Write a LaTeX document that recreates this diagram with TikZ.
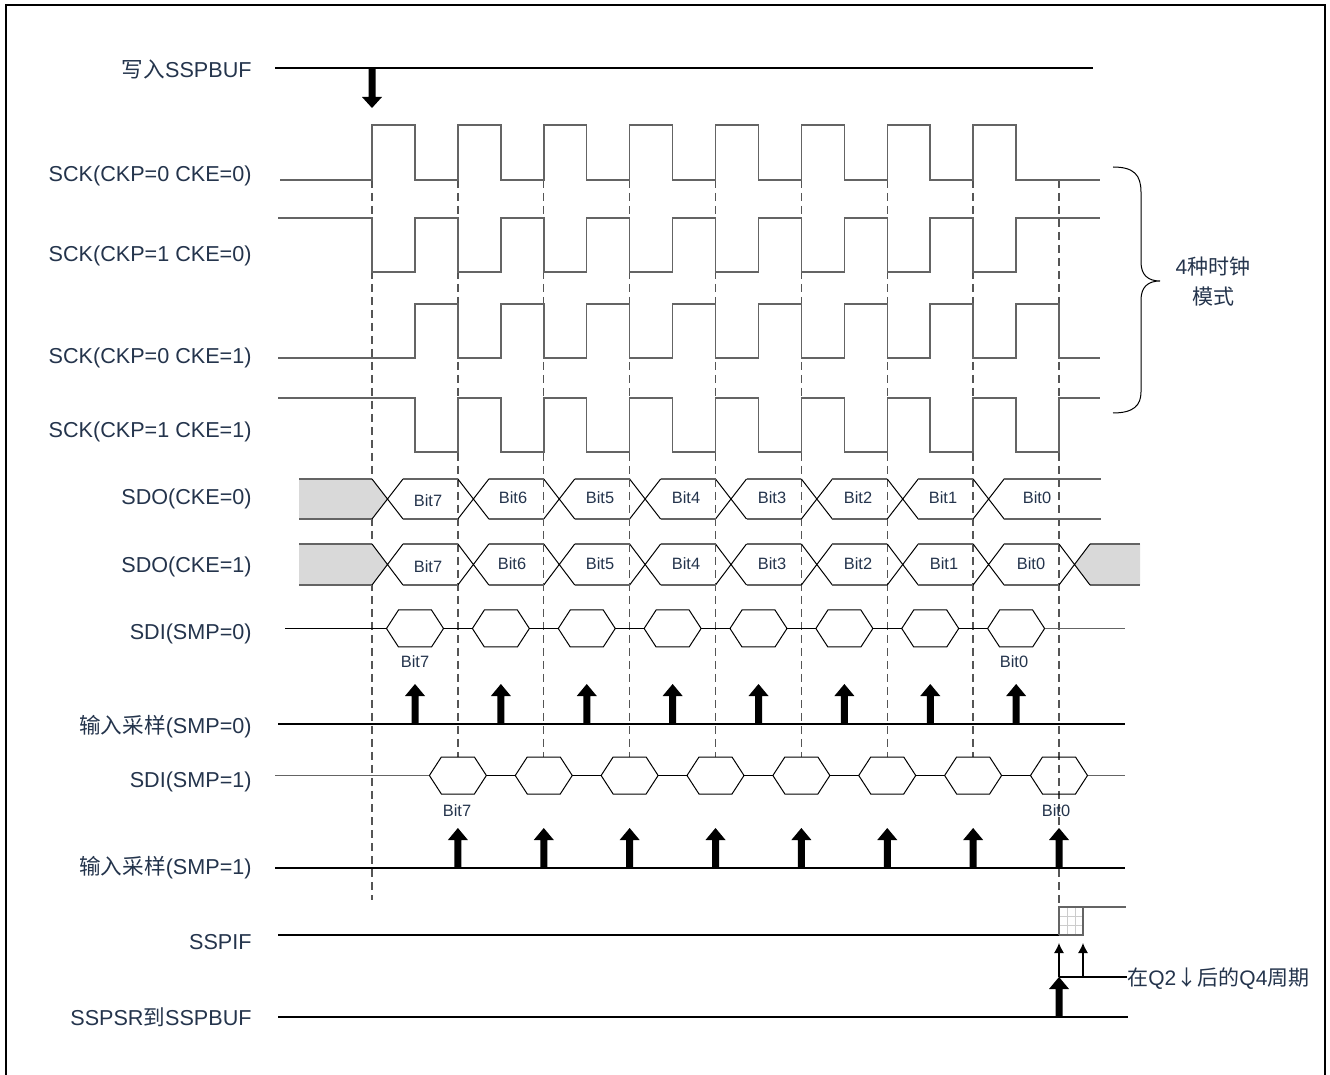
\documentclass[tikz,border=0pt]{standalone}
\usepackage{fontspec}
\setmainfont{Liberation Sans}
\newfontfamily\cjk{Noto Sans CJK SC}
\usetikzlibrary{arrows.meta}
\definecolor{txt}{RGB}{36,52,76}
\definecolor{wavec}{RGB}{100,100,100}
\definecolor{dashc}{RGB}{85,85,85}
\definecolor{grayfill}{RGB}{217,217,217}
\newcommand\myup[3]{\fill[black] ({#1-3.5},#2) -- ({#1-3.5},{#3+12}) -- ({#1-10},{#3+12}) -- (#1,#3) -- ({#1+10},{#3+12}) -- ({#1+3.5},{#3+12}) -- ({#1+3.5},#2) -- cycle;}
\newcommand\mydown[3]{\fill[black] ({#1-3.5},#2) -- ({#1-3.5},{#3-11}) -- ({#1-10},{#3-11}) -- (#1,#3) -- ({#1+10},{#3-11}) -- ({#1+3.5},{#3-11}) -- ({#1+3.5},#2) -- cycle;}
\begin{document}
\begin{tikzpicture}[x=0.5pt,y=-0.5pt,
  lbl/.style={anchor=east,text=txt,font=\fontsize{10.8}{13}\selectfont,inner sep=0pt},
  bitlbl/.style={text=txt,font=\fontsize{8.2}{10}\selectfont,inner sep=0pt},
  wave/.style={draw=wavec,line width=0.75pt},
  base/.style={draw=black,line width=0.6pt},
  dline/.style={draw=dashc,line width=0.7pt,dash pattern=on 4pt off 2.5pt},
  xline/.style={draw=black,line width=0.5pt},
  hline/.style={draw=wavec,line width=0.75pt},
  hexs/.style={draw=black,line width=0.5pt}]
\useasboundingbox (0,0) rectangle (1330,1075);
\def\P{85.875}
\def\H{42.9375}
% frame
\draw[black,line width=0.9pt] (6,1076) -- (6,5) -- (1325,5) -- (1325,1076);

% labels
\node[lbl] (l1) at (252,69) {{\cjk 写入}SSPBUF};
\node[lbl] (l2) at (252,176) {SCK(CKP=0 CKE=0)};
\node[lbl] (l3) at (252,256) {SCK(CKP=1 CKE=0)};
\node[lbl] (l4) at (252,358) {SCK(CKP=0 CKE=1)};
\node[lbl] (l5) at (252,432) {SCK(CKP=1 CKE=1)};
\node[lbl] (l6) at (252,499) {SDO(CKE=0)};
\node[lbl] (l7) at (252,567) {SDO(CKE=1)};
\node[lbl] (l8) at (252,634) {SDI(SMP=0)};
\node[lbl] (l9) at (252,727) {{\cjk 输入采样}(SMP=0)};
\node[lbl] (l10) at (252,782) {SDI(SMP=1)};
\node[lbl] (l11) at (252,868) {{\cjk 输入采样}(SMP=1)};
\node[lbl] (l12) at (252,942) {SSPIF};
\node[lbl] (l13) at (252,1017) {SSPSR{\cjk 到}SSPBUF};

% write SSPBUF
\draw[base] (275,68) -- (1093,68);
\mydown{372}{68}{108}

% dashed lines
\draw[dline] (372,180) -- (372,900);
\foreach \k in {1,...,7} \draw[dline] ({372+\P*\k},180) -- ({372+\P*\k},757);
\draw[dline] (1059,180) -- (1059,935);

% SCK waves
\draw[wave] (280,180) \foreach \k in {0,...,7}{ -- ({372+\P*\k},180) -- ({372+\P*\k},125) -- ({372+\H+\P*\k},125) -- ({372+\H+\P*\k},180)} -- (1100,180);
\draw[wave] (278,218) \foreach \k in {0,...,7}{ -- ({372+\P*\k},218) -- ({372+\P*\k},272) -- ({372+\H+\P*\k},272) -- ({372+\H+\P*\k},218)} -- (1100,218);
\draw[wave] (278,358) \foreach \k in {0,...,7}{ -- ({372+\H+\P*\k},358) -- ({372+\H+\P*\k},304) -- ({372+\P*(\k+1)},304) -- ({372+\P*(\k+1)},358)} -- (1100,358);
\draw[wave] (278,398) \foreach \k in {0,...,7}{ -- ({372+\H+\P*\k},398) -- ({372+\H+\P*\k},452) -- ({372+\P*(\k+1)},452) -- ({372+\P*(\k+1)},398)} -- (1100,398);

% brace
\draw[black,line width=0.5pt] (1113,167) .. controls (1134,167) and (1141,175) .. (1141,192) -- (1141,262) .. controls (1141,275) and (1148,281) .. (1160,281) .. controls (1148,281) and (1141,287) .. (1141,300) -- (1141,392) .. controls (1141,405) and (1134,413) .. (1113,413);
\node[text=txt,font=\fontsize{10.5}{15}\selectfont,align=center,inner sep=0pt] (modes) at (1213,282) {4{\cjk 种时钟}\\{\cjk 模式}};

% SDO(CKE=0)
\fill[grayfill] (299,479) -- (372,479) -- (387.5,499) -- (372,519) -- (299,519) -- cycle;
\draw[hline] (299,479) -- (372,479) (299,519) -- (372,519);
\foreach \k in {0,...,7} {\draw[xline] ({372+\P*\k},479) -- ({403+\P*\k},519) ({372+\P*\k},519) -- ({403+\P*\k},479);}
\foreach \k in {0,...,6} {\draw[hline] ({403+\P*\k},479) -- ({372+\P*(\k+1)},479) ({403+\P*\k},519) -- ({372+\P*(\k+1)},519);}
\draw[hline] (1004,479) -- (1101,479) (1004,519) -- (1101,519);
\node[bitlbl] (a7) at (428,501) {Bit7};
\node[bitlbl] (a6) at (513,498) {Bit6};
\node[bitlbl] (a5) at (600,498) {Bit5};
\node[bitlbl] (a4) at (686,498) {Bit4};
\node[bitlbl] (a3) at (772,498) {Bit3};
\node[bitlbl] (a2) at (858,498) {Bit2};
\node[bitlbl] (a1) at (943,498) {Bit1};
\node[bitlbl] (a0) at (1037,498) {Bit0};

% SDO(CKE=1)
\fill[grayfill] (299,544) -- (372,544) -- (387.5,564.5) -- (372,585) -- (299,585) -- cycle;
\draw[hline] (299,544) -- (372,544) (299,585) -- (372,585);
\fill[grayfill] (1074.5,564.5) -- (1090,544) -- (1140,544) -- (1140,585) -- (1090,585) -- cycle;
\draw[hline] (1090,544) -- (1140,544) (1090,585) -- (1140,585);
\foreach \k in {0,...,8} {\draw[xline] ({372+\P*\k},544) -- ({403+\P*\k},585) ({372+\P*\k},585) -- ({403+\P*\k},544);}
\foreach \k in {0,...,7} {\draw[hline] ({403+\P*\k},544) -- ({372+\P*(\k+1)},544) ({403+\P*\k},585) -- ({372+\P*(\k+1)},585);}
\node[bitlbl] (b7) at (428,567) {Bit7};
\node[bitlbl] (b6) at (512,564) {Bit6};
\node[bitlbl] (b5) at (600,564) {Bit5};
\node[bitlbl] (b4) at (686,564) {Bit4};
\node[bitlbl] (b3) at (772,564) {Bit3};
\node[bitlbl] (b2) at (858,564) {Bit2};
\node[bitlbl] (b1) at (944,564) {Bit1};
\node[bitlbl] (b0) at (1031,564) {Bit0};

% SDI(SMP=0)
\foreach \k in {0,...,7} {
  \pgfmathsetmacro\c{415+\P*\k}
  \draw[hexs] ({\c-28.5},628.5) -- ({\c-16.5},610) -- ({\c+16.5},610) -- ({\c+28.5},628.5) -- ({\c+16.5},647) -- ({\c-16.5},647) -- cycle;
}
\draw[xline] (285,628.5) -- (386.5,628.5);
\foreach \k in {0,...,6} \draw[xline] ({415+28.5+\P*\k},628.5) -- ({415-28.5+\P*(\k+1)},628.5);
\draw[hline] (1044.6,628.5) -- (1125,628.5);
\node[bitlbl] (c7) at (415,662) {Bit7};
\node[bitlbl] (c0) at (1014,662) {Bit0};

% sampling SMP=0
\draw[base] (278,724) -- (1125,724);
\foreach \k in {0,...,7} {\pgfmathsetmacro\xx{415+\P*\k}\myup{\xx}{724}{684}}

% SDI(SMP=1)
\foreach \k in {1,...,8} {
  \pgfmathsetmacro\c{372+\P*\k}
  \draw[hexs] ({\c-28.5},775.5) -- ({\c-16.5},757) -- ({\c+16.5},757) -- ({\c+28.5},775.5) -- ({\c+16.5},794) -- ({\c-16.5},794) -- cycle;
}
\draw[hline] (275,775.5) -- (429.4,775.5);
\foreach \k in {1,...,7} \draw[xline] ({372+28.5+\P*\k},775.5) -- ({372-28.5+\P*(\k+1)},775.5);
\draw[hline] (1087.5,775.5) -- (1125,775.5);
\node[bitlbl] (d7) at (457,811) {Bit7};
\node[bitlbl] (d0) at (1056,811) {Bit0};

% sampling SMP=1
\draw[base] (275,868) -- (1125,868);
\foreach \k in {1,...,8} {\pgfmathsetmacro\xx{372+\P*\k}\myup{\xx}{868}{828}}

% SSPIF
\draw[base] (278,935) -- (1059,935);
\draw[gray!40,line width=0.4pt] (1067,907) -- (1067,935) (1075,907) -- (1075,935) (1059,916) -- (1083,916) (1059,925.5) -- (1083,925.5);
\draw[wavec,line width=0.6pt] (1059,935) -- (1083,935) -- (1083,907) (1059,935) -- (1059,907) -- (1126,907);

% thin arrows and note
\coordinate (q) at (1059,977);
\coordinate (q2) at (1083,977);
\draw[black,line width=0.6pt,-{Latex[length=5pt,width=5pt]}] (q) -- (1059,943);
\draw[black,line width=0.6pt,-{Latex[length=5pt,width=5pt]}] (q2) -- (1083,943);
\node[anchor=west,text=txt,font=\fontsize{10.5}{13}\selectfont,inner sep=0pt] (note) at (1127,979) {{\cjk 在}Q2{\cjk ↓后的}Q4{\cjk 周期}};
\draw[black,line width=0.6pt] (q) -- (note.west |- q);

% SSPSR to SSPBUF
\draw[base] (278,1017) -- (1128,1017);
\myup{1059}{1017}{977}
\end{tikzpicture}
\end{document}
